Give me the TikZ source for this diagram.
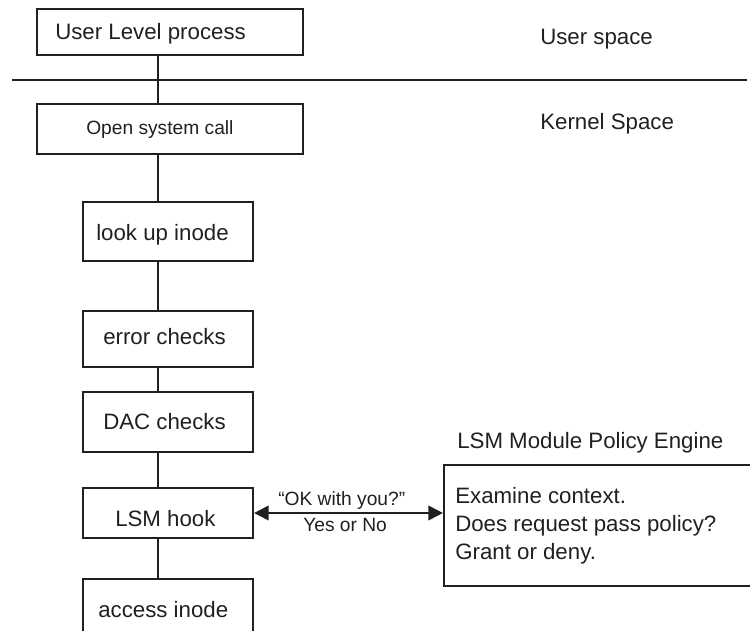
\documentclass[tikz,border=0pt]{standalone}
\usepackage{fontspec}
\setmainfont{Liberation Sans}
\usetikzlibrary{arrows.meta}
\definecolor{ink}{HTML}{231F20}
\begin{document}
\begin{tikzpicture}[
  x=0.75pt, y=-0.75pt,
  every node/.style={text=ink},
  box/.style={draw=ink, line width=1.6pt, inner sep=0pt},
  big/.style={font=\fontsize{16.7}{20}\selectfont, inner sep=0pt, anchor=base west},
  small/.style={font=\fontsize{14.4}{17}\selectfont, inner sep=0pt, anchor=base west},
  wire/.style={draw=ink, line width=1.6pt},
]
\useasboundingbox (0,0) rectangle (750,631);
\clip (0,0) rectangle (750,631);

% x position of the vertical call chain
\coordinate (spine) at (158,0);

% boxes of the call chain
\node[box, minimum width=266*0.75pt, minimum height=46*0.75pt] (user)   at (170,32)    {};
\node[box, minimum width=266*0.75pt, minimum height=50*0.75pt] (open)   at (170,129)   {};
\node[box, minimum width=170*0.75pt, minimum height=59*0.75pt] (lookup) at (168,231.5) {};
\node[box, minimum width=170*0.75pt, minimum height=56*0.75pt] (errchk) at (168,339)   {};
\node[box, minimum width=170*0.75pt, minimum height=60*0.75pt] (dac)    at (168,422)   {};
\node[box, minimum width=170*0.75pt, minimum height=50*0.75pt] (hook)   at (168,513)   {};
\node[box, minimum width=170*0.75pt, minimum height=80*0.75pt] (access) at (168,619)   {};
\node[box, minimum width=356*0.75pt, minimum height=121*0.75pt] (policy) at (622,525.5) {};

% box texts
\node[big]   (tuser)   at (55,40)   {User Level process};
\node[small] (topen)   at (86,135)  {Open system call};
\node[big]   (tlookup) at (96,241)  {look up inode};
\node[big]   (terr)    at (103,344) {error checks};
\node[big]   (tdac)    at (103,429) {DAC checks};
\node[big]   (thook)   at (115,526) {LSM hook};
\node[big]   (taccess) at (98,617)  {access inode};

% policy engine
\node[big] (ptitle) at (457,448) {LSM Module Policy Engine};
\node[big] (p1) at (455,503) {Examine context.};
\node[big] (p2) at (455,531) {Does request pass policy?};
\node[big] (p3) at (455,559) {Grant or deny.};

% space labels and the user/kernel divider
\node[big] (uspace) at (540,45)  {User space};
\node[big] (kspace) at (540,130) {Kernel Space};
\coordinate (divL) at (12,80);
\coordinate (divR) at (747,80);
\draw[wire] (divL) -- (divR);

% chain connectors
\draw[wire] (spine |- user.south)   -- (spine |- open.north);
\draw[wire] (spine |- open.south)   -- (spine |- lookup.north);
\draw[wire] (spine |- lookup.south) -- (spine |- errchk.north);
\draw[wire] (spine |- errchk.south) -- (spine |- dac.north);
\draw[wire] (spine |- dac.south)    -- (spine |- hook.north);
\draw[wire] (spine |- hook.south)   -- (spine |- access.north);

% query to the policy engine
\draw[wire, line width=1.4pt, {Triangle[length=11pt,width=11pt]}-{Triangle[length=11pt,width=11pt]}]
  (hook.east) -- (hook.east -| policy.west);
\node[small] (q1) at (278,505) {“OK with you?”};
\node[small] (q2) at (303,531) {Yes or No};
\end{tikzpicture}
\end{document}
